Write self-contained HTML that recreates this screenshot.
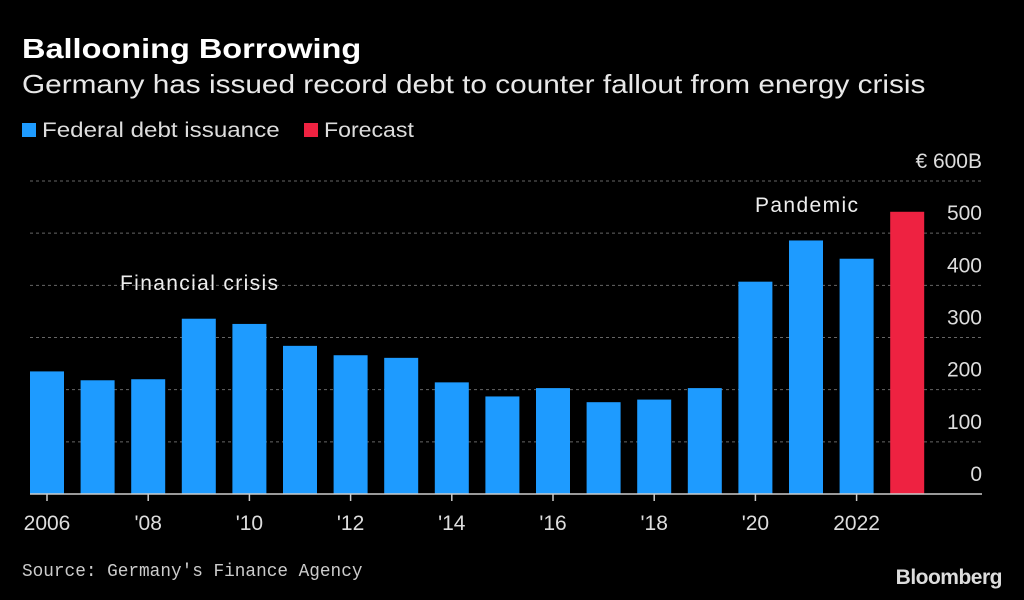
<!DOCTYPE html>
<html><head><meta charset="utf-8"><style>
body{margin:0;background:#000;width:1024px;height:600px;overflow:hidden;font-family:"Liberation Sans",sans-serif;color:#fff}
.t{position:absolute;white-space:nowrap;transform-origin:left top}
</style></head><body>
<div class="t" style="left:22px;top:33px;font-size:28px;font-weight:bold;transform:scaleX(1.16)">Ballooning Borrowing</div>
<div class="t" style="left:22px;top:69px;font-size:26px;color:#e8e8e8;transform:scaleX(1.145)">Germany has issued record debt to counter fallout from energy crisis</div>
<div class="t" style="left:22px;top:119px;font-size:21px;color:#ddd"><span style="display:inline-block;width:14px;height:14px;background:#1e9bff;margin-right:6px"></span><span style="display:inline-block;transform:scaleX(1.15);transform-origin:left">Federal debt issuance</span></div>
<div class="t" style="left:304px;top:119px;font-size:21px;color:#ddd"><span style="display:inline-block;width:14px;height:14px;background:#ee2241;margin-right:6px"></span><span style="display:inline-block;transform:scaleX(1.1);transform-origin:left">Forecast</span></div>
<svg id="c" width="1024" height="600" style="position:absolute;left:0;top:0"></svg>
<div class="t" style="left:22px;top:562px;font-size:18px;color:#ccc;font-family:'Liberation Mono',monospace;transform:scaleX(0.985)">Source: Germany's Finance Agency</div>
<div class="t" style="right:22px;top:566px;font-size:21px;font-weight:bold;color:#ddd;letter-spacing:-0.5px">Bloomberg</div>
<script>
const years=[2006,2007,2008,2009,2010,2011,2012,2013,2014,2015,2016,2017,2018,2019,2020,2021,2022,2023];
const values=[235,218,220,336,326,284,266,261,214,187,203,176,181,203,407,486,451,541];
const forecast=[0,0,0,0,0,0,0,0,0,0,0,0,0,0,0,0,0,1];
const yTicks=[0,100,200,300,400,500,600];
const xLabels={2006:"2006",2008:"'08",2010:"'10",2012:"'12",2014:"'14",2016:"'16",2018:"'18",2020:"'20",2022:"2022"};
const svg=document.getElementById('c');const NS='http://www.w3.org/2000/svg';
const y=v=>494-v*(494-181)/600;
const x=i=>30+i*50.6;
const bw=34;
function mk(t,a,txt){const e=document.createElementNS(NS,t);for(const k in a)e.setAttribute(k,a[k]);if(txt!=null)e.textContent=txt;svg.appendChild(e);return e;}
yTicks.forEach(v=>{
 if(v>0){const g=mk('line',{x1:30,x2:982,y1:y(v),y2:y(v),stroke:'#666','stroke-dasharray':'3,3','stroke-width':1});
 
 }
 const lab=v===600?'€ 600B':String(v);
 const t=mk('text',{x:982,y:y(v)-13,'text-anchor':'end','font-size':21,fill:'#ddd','font-family':'Liberation Sans, sans-serif'},lab);
 
 
});
values.forEach((v,i)=>{
 const r=mk('rect',{x:x(i),y:y(v),width:bw,height:y(0)-y(v),fill:forecast[i]?'#ee2241':'#1e9bff'});
 
 
 if(xLabels[years[i]]){
  const c=x(i)+bw/2;
  const tk=mk('line',{x1:c,x2:c,y1:494,y2:501,stroke:'#ccc','stroke-width':1.5});
  
  
  const t=mk('text',{x:c,y:530,'text-anchor':'middle','font-size':21,fill:'#ddd','font-family':'Liberation Sans, sans-serif'},xLabels[years[i]]);
  
  
 }
});
const b=mk('line',{x1:30,x2:982,y1:494,y2:494,stroke:'#ccc','stroke-width':1.5});


const a1=mk('text',{x:120,y:290,'font-size':21,fill:'#eee','font-family':'Liberation Sans, sans-serif',textLength:158},'Financial crisis');


const a2=mk('text',{x:755,y:212,'font-size':21,fill:'#eee','font-family':'Liberation Sans, sans-serif',textLength:103},'Pandemic');


</script>
</body></html>
